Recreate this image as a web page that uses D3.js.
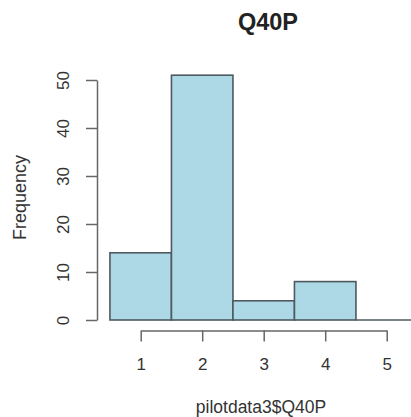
<!DOCTYPE html>
<html><head><meta charset="utf-8">
<script src="https://cdn.jsdelivr.net/npm/d3@7"></script>
<style>body{margin:0;background:#fff}svg{display:block}text{font-family:"Liberation Sans",Arial,sans-serif}</style>
</head><body>
<script>
const binStarts = [0.5, 1.5, 2.5, 3.5, 4.5];
const binEnds = [1.5, 2.5, 3.5, 4.5, 5.5];
const counts = [14, 51, 4, 8, 0];
const xTicks = [1, 2, 3, 4, 5];
const yTicks = [0, 10, 20, 30, 40, 50];
const title = "Q40P";
const xLabel = "pilotdata3$Q40P";
const yLabel = "Frequency";

const W = 411, H = 417;
const svg = d3.select("body").append("svg").attr("width", W).attr("height", H);
const x = d3.scaleLinear().domain([1, 5]).range([140.7, 386.7]);
const y = d3.scaleLinear().domain([0, 50]).range([320, 80]);

const bins = counts.map((c, i) => ({x0: binStarts[i], x1: binEnds[i], c}));
const barStroke = "#4d5a60";
svg.append("g").selectAll("rect").data(bins.filter(d => d.c > 0)).join("rect")
  .attr("x", d => x(d.x0)).attr("width", d => x(d.x1) - x(d.x0))
  .attr("y", d => y(d.c)).attr("height", d => y(0) - y(d.c))
  .attr("fill", "#ADD8E6").attr("stroke", barStroke).attr("stroke-width", 1.6);
svg.append("g").selectAll("line").data(bins.filter(d => d.c === 0)).join("line")
  .attr("x1", d => x(d.x0)).attr("x2", d => x(d.x1))
  .attr("y1", d => y(d.c)).attr("y2", d => y(d.c))
  .attr("stroke", barStroke).attr("stroke-width", 1.6);

const axisCol = "#666";
const fmt = d3.format("d");
// y axis
const ya = svg.append("g").attr("transform", "translate(97,0)")
  .call(d3.axisLeft(y).tickValues(yTicks).tickFormat(fmt).tickSize(11).tickSizeOuter(0));
ya.select(".domain").attr("stroke", axisCol).attr("stroke-width", 1.5);
ya.selectAll(".tick line").attr("stroke", axisCol).attr("stroke-width", 1.5);
ya.selectAll(".tick text").attr("font-size", 17).attr("fill", "#333")
  .attr("text-anchor", "middle").attr("x", 0).attr("dy", 0)
  .attr("transform", "translate(-33.5,0) rotate(-90)").attr("dominant-baseline", "central");

// x axis
const xa = svg.append("g").attr("transform", "translate(0,330.5)")
  .call(d3.axisBottom(x).tickValues(xTicks).tickFormat(fmt).tickSize(11).tickSizeOuter(0).tickPadding(16));
xa.select(".domain").attr("stroke", axisCol).attr("stroke-width", 1.5);
xa.selectAll(".tick line").attr("stroke", axisCol).attr("stroke-width", 1.5);
xa.selectAll(".tick text").attr("font-size", 17).attr("fill", "#333");

svg.append("text").attr("x", 268).attr("y", 30).attr("text-anchor", "middle")
  .attr("font-size", 23.5).attr("font-weight", "bold").attr("fill", "#222").text(title);
svg.append("text").attr("x", 261).attr("y", 413).attr("text-anchor", "middle")
  .attr("font-size", 17.5).attr("fill", "#333").text(xLabel);
svg.append("text").attr("transform", "translate(25.5,197.5) rotate(-90)").attr("text-anchor", "middle")
  .attr("font-size", 18).attr("fill", "#333").text(yLabel);
</script>
</body></html>
